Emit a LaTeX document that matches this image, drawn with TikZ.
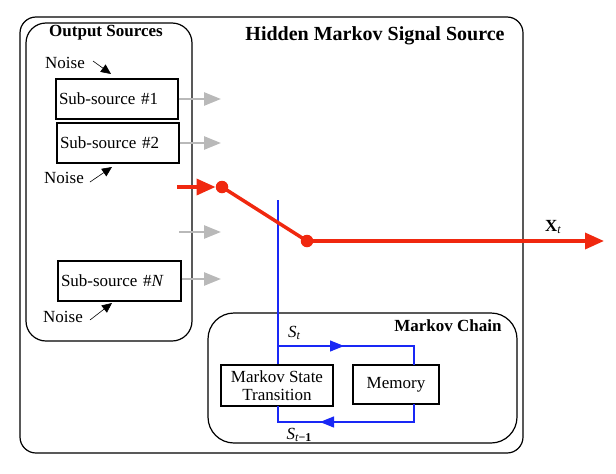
\documentclass[tikz,border=0pt]{standalone}
\usepackage{fontspec}
\setmainfont{Liberation Serif}
\usetikzlibrary{arrows.meta,decorations.markings}
\definecolor{sigred}{RGB}{240,40,15}
\definecolor{arrgray}{RGB}{185,185,185}
\definecolor{chainblue}{RGB}{25,40,245}
\begin{document}
\begin{tikzpicture}[x=1pt,y=-1pt,
  txt/.style={font=\fontsize{17}{17}\selectfont, inner sep=0pt},
  ttl/.style={font=\fontsize{17}{17}\selectfont\bfseries, inner sep=0pt},
  bigttl/.style={font=\fontsize{20}{20}\selectfont\bfseries, inner sep=0pt},
  frame/.style={draw=black, line width=1.2pt},
  block/.style={draw=black, line width=1.1pt, inner sep=0pt, align=center, font=\fontsize{17}{18}\selectfont},
  srcbox/.style={draw=black, line width=1.1pt, inner ysep=0pt, inner xsep=3pt, align=left, minimum height=40pt, font=\fontsize{17}{18}\selectfont},
  noisearrow/.style={draw=black, line width=0.6pt, -{Triangle[length=10pt,width=9pt]}},
  grayarrow/.style={draw=arrgray, line width=2.6pt, -{Triangle[length=17pt,width=13pt]}},
  redline/.style={draw=sigred, line width=3.5pt},
  dot/.style={circle, fill=sigred, inner sep=0pt, minimum size=12.5pt},
  blueline/.style={draw=chainblue, line width=1.2pt},
]
\useasboundingbox (0,0) rectangle (616,474);

% frames
\draw[frame, rounded corners=16pt] (20,17) rectangle (523,453);
\draw[frame, rounded corners=20pt] (26,23) rectangle (192,341);
\draw[frame, rounded corners=26pt] (208,313) rectangle (517,443);

\node[bigttl] (hmtitle) at (375,36) {Hidden Markov Signal Source};
\node[ttl] (ostitle) at (106,33) {Output Sources};
\node[ttl] (mctitle) at (448,326) {Markov Chain};

% sub-sources
\node[srcbox, text width=116pt] (sub1) at (117,99) {Sub-source \#1};
\node[srcbox, text width=116pt] (sub2) at (118,143) {Sub-source \#2};
\node[srcbox, text width=117pt] (subN) at (119.5,281) {Sub-source \#\textit{N}};

% noise
\node[txt] (noise1) at (65,63) {Noise};
\node[txt] (noise2) at (64,178) {Noise};
\node[txt] (noise3) at (63,317) {Noise};
\coordinate (n1a) at (93,61);
\coordinate (n1b) at (111,74);
\coordinate (n2a) at (90,182);
\coordinate (n2b) at (112,167);
\coordinate (n3a) at (90,320);
\coordinate (n3b) at (112,303);
\draw[noisearrow] (n1a) -- (n1b);
\draw[noisearrow] (n2a) -- (n2b);
\draw[noisearrow] (n3a) -- (n3b);

% gray output arrows
\coordinate (g1) at (221,99);
\coordinate (g2) at (221,143);
\coordinate (g3s) at (179,232);
\coordinate (g3) at (221,232);
\coordinate (g4) at (221,279);
\draw[grayarrow] (sub1.east) -- (g1);
\draw[grayarrow] (sub2.east) -- (g2);
\draw[grayarrow] (g3s) -- (g3);
\draw[grayarrow] (subN.east |- g4) -- (g4);

% Markov chain blocks
\node[block, minimum width=112pt, minimum height=41pt] (mst) at (277,385.5) {Markov State\\Transition};
\node[block, minimum width=86pt, minimum height=39pt] (mem) at (396,384.5) {Memory};

% blue lines
\coordinate (btop) at (278,200);
\coordinate (bj) at (278,346);
\coordinate (bjr) at (414,346);
\coordinate (bmt) at (414,365);
\coordinate (bmb) at (414,404);
\coordinate (bbr) at (414,422);
\coordinate (bbl) at (278,422);
\coordinate (bsb) at (278,406);
\draw[blueline] (btop) -- (mst.north -| btop);
\draw[blueline, postaction={decorate}, decoration={markings, mark=at position 66pt with {\arrow[chainblue]{Triangle[length=14pt,width=11pt]}}}]
  (bj) -- (bjr) -- (bmt);
\draw[blueline, postaction={decorate}, decoration={markings, mark=at position 112pt with {\arrow[chainblue]{Triangle[length=14pt,width=11pt]}}}]
  (bmb) -- (bbr) -- (bbl) -- (bsb);
\node[txt, font=\fontsize{17}{17}\selectfont\itshape] (st) at (294,333) {S\raisebox{-0.35ex}{\fontsize{12}{12}\selectfont t}};
\node[txt, font=\fontsize{17}{17}\selectfont\itshape] (stm) at (299,435) {S\raisebox{-0.35ex}{\fontsize{12}{12}\selectfont t\upshape\bfseries −1}};

% red signal path
\coordinate (rstart) at (177,187);
\node[dot] (da) at (222,187) {};
\node[dot] (db) at (307,241) {};
\coordinate (rend) at (604,241);
\draw[redline, -{Triangle[length=19pt,width=16pt]}] (rstart) -- (da.west);
\draw[redline] (da.center) -- (db.center);
\draw[redline, -{Triangle[length=19pt,width=16pt]}] (db.center) -- (rend);
\node[inner sep=0pt, font=\fontsize{17}{17}\selectfont\bfseries] (xt) at (553,227) {X\raisebox{-0.35ex}{\fontsize{12}{12}\selectfont\mdseries\itshape t}};
\end{tikzpicture}
\end{document}
